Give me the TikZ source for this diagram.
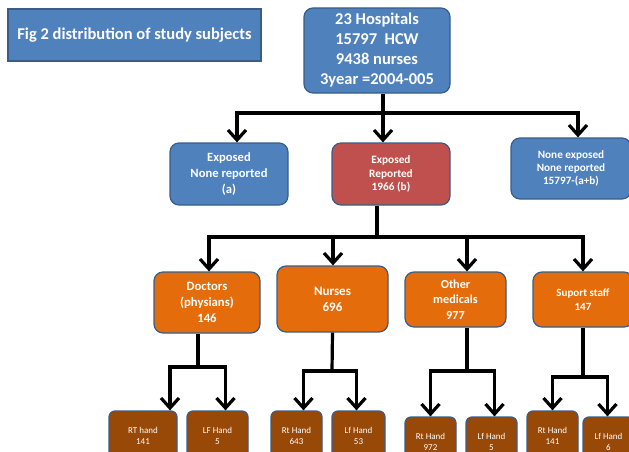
\documentclass[tikz,border=0pt]{standalone}
\usepackage{fontspec}
\setmainfont{Carlito}
\usetikzlibrary{arrows.meta}
\definecolor{obl}{HTML}{4F81BD}
\definecolor{obd}{HTML}{385D8A}
\definecolor{ored}{HTML}{C0504D}
\definecolor{oor}{HTML}{E46C0A}
\definecolor{obr}{HTML}{984807}
\tikzset{
  box/.style={draw=obd, line width=1.2pt, rounded corners=9pt, text=white, align=center, inner sep=0pt, font=\bfseries},
  bluebox/.style={box, fill=obl},
  redbox/.style={box, fill=ored},
  orbox/.style={box, fill=oor},
  brbox/.style={box, fill=obr, rounded corners=6pt, font=\normalfont, minimum width=51pt, minimum height=50pt},
  conn/.style={line width=3.2pt, black},
  arr/.style={conn, -{Straight Barb[length=10pt,width=18pt,line width=3.2pt]}},
}
\begin{document}
\begin{tikzpicture}[x=1pt,y=-1pt]
\useasboundingbox (0,0) rectangle (629,452);
\clip (0,0) rectangle (629,452);
% title
\node[bluebox, rounded corners=0pt, minimum width=253pt, minimum height=52pt, font=\bfseries\fontsize{16.5}{19}\selectfont] (title) at (134.5,35) {Fig 2 distribution of study subjects};
% top
\node[bluebox, minimum width=146pt, minimum height=85pt, font=\bfseries\fontsize{16.5}{20}\selectfont] (top) at (377,50.5) {23 Hospitals\\15797~~HCW\\9438 nurses\\3year =2004-005};
% second level
\node[bluebox, minimum width=118pt, minimum height=62pt, font=\bfseries\fontsize{12.6}{16}\selectfont] (expA) at (229,174) {Exposed\\None reported\\(a)};
\node[redbox, minimum width=118pt, minimum height=62pt, font=\bfseries\fontsize{11.3}{13.5}\selectfont] (expB) at (391,174) {Exposed\\Reported\\1966 (b)};
\node[bluebox, minimum width=120pt, minimum height=61pt, font=\bfseries\fontsize{11.2}{13}\selectfont] (none) at (571,168.5) {None exposed\\None reported\\15797-(a+b)};
% third level
\node[orbox, minimum width=106pt, minimum height=61pt, font=\bfseries\fontsize{12.7}{16}\selectfont] (doc) at (207,302.5) {Doctors\\(physians)\\146};
\node[orbox, minimum width=111pt, minimum height=66pt, font=\bfseries\fontsize{13}{16}\selectfont] (nur) at (332.5,299) {Nurses\\696};
\node[orbox, minimum width=101pt, minimum height=55pt, font=\bfseries\fontsize{12.2}{15.5}\selectfont] (oth) at (455.5,299.5) {Other\\medicals\\977};
\node[orbox, minimum width=100pt, minimum height=55pt, font=\bfseries\fontsize{11}{14}\selectfont] (sup) at (583,299.5) {Suport staff\\147};
% bottom level
\node[brbox, minimum width=68pt, font=\fontsize{9}{11}\selectfont] (dR) at (143,436) {RT hand\\141};
\node[brbox, minimum width=61pt, font=\fontsize{9}{11}\selectfont] (dL) at (217.5,436) {LF Hand\\5};
\node[brbox, font=\fontsize{9}{11}\selectfont] (nR) at (296.5,436) {Rt Hand\\643};
\node[brbox, minimum width=53pt, font=\fontsize{9}{11}\selectfont] (nL) at (358.5,436) {Lf Hand\\53};
\node[brbox, font=\fontsize{9}{11}\selectfont] (oR) at (430.5,442) {Rt Hand\\972};
\node[brbox, font=\fontsize{9}{11}\selectfont] (oL) at (491.5,442) {Lf Hand\\5};
\node[brbox, font=\fontsize{9}{11}\selectfont] (sR) at (552.5,436) {Rt Hand\\141};
\node[brbox, font=\fontsize{9}{11}\selectfont] (sL) at (608.5,442) {Lf Hand\\6};
% junctions
\coordinate (j1) at (383,113);
\coordinate (j2) at (377,237);
\coordinate (jd) at (198,367);
\coordinate (jn) at (332,371);
\coordinate (jo) at (467,371);
\coordinate (js) at (583,377);
% connectors level 1
\draw[conn] ([xshift=6pt]top.south) -- (j1);
\draw[arr] (j1) -| ([xshift=8pt]expA.north);
\draw[arr] (j1) -- ([xshift=-8pt]expB.north);
\draw[arr] (j1) -| ([xshift=7pt]none.north);
% level 2
\draw[conn] ([xshift=-14pt]expB.south) -- (j2);
\draw[arr] (j2) -| ([xshift=2pt]doc.north);
\draw[arr] (j2) -| ([xshift=0.5pt]nur.north);
\draw[arr] (j2) -| ([xshift=11.5pt]oth.north);
\draw[arr] (j2) -| (sup.north);
% level 3
\draw[conn] ([xshift=-9pt]doc.south) -- (jd);
\draw[arr] (jd) -| ([xshift=27pt]dR.north);
\draw[arr] (jd) -| ([xshift=8pt]dL.north);
\draw[conn] (nur.south) -- (jn);
\draw[arr] (jn) -| ([xshift=7pt]nR.north);
\draw[arr] (jn) -| ([xshift=-2pt]nL.north);
\draw[conn] ([xshift=11.5pt]oth.south) -- (jo);
\draw[arr] (jo) -| (oR.north);
\draw[arr] (jo) -| ([xshift=3pt]oL.north);
\draw[conn] (sup.south) -- (js);
\draw[arr] (js) -| (sR.north);
\draw[arr] (js) -| ([xshift=-1pt]sL.north);
\end{tikzpicture}
\end{document}
